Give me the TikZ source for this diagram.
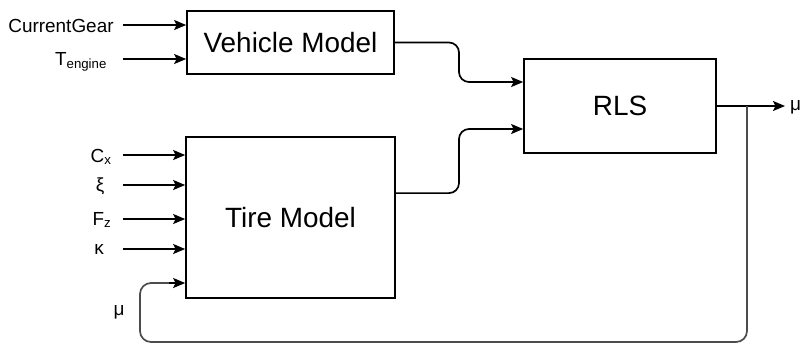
\documentclass[tikz,border=0pt]{standalone}
\usepackage{fontspec}
\setmainfont{Liberation Sans}
\usetikzlibrary{arrows.meta,calc}
\begin{document}
\begin{tikzpicture}[x=1bp,y=-1bp,
  block/.style={draw,line width=1.7bp,inner sep=0pt,font=\fontsize{28}{30}\selectfont},
  lbl/.style={inner sep=0pt,font=\fontsize{19}{21}\selectfont},
  arr/.style={line width=1.7bp,-{Stealth[length=12bp,width=10bp,inset=2.5bp]}},
  link/.style={arr,rounded corners=10bp},
  fb/.style={line width=1.7bp,draw=black!70,rounded corners=11bp}]
\useasboundingbox (0,0) rectangle (804,345);

% blocks
\node[block,minimum width=207bp,minimum height=63bp] (vm) at (290.5,42.5) {Vehicle Model};
\node[block,minimum width=209bp,minimum height=161bp] (tm) at (290.5,217.5) {Tire Model};
\node[block,minimum width=192bp,minimum height=94bp] (rls) at (620,106) {RLS};

% input labels
\node[lbl] (cg) at (61,26) {CurrentGear};
\node[lbl] (te) at (81,62) {T\textsubscript{engine}};
\node[lbl] (cx) at (101,157) {C\textsubscript{x}};
\node[lbl] (xi) at (100,186) {ξ};
\node[lbl] (fz) at (102,220) {F\textsubscript{z}};
\node[lbl] (ka) at (99,249) {κ};
\node[lbl] (mf) at (119,312) {μ};
\node[lbl,anchor=west] (mo) at (790,107) {μ};

% start points of the input arrows
\coordinate (s1) at (123,25);
\coordinate (s2) at (123,59);
\coordinate (s3) at (123,155);
\coordinate (s4) at (123,185);
\coordinate (s5) at (123,219);
\coordinate (s6) at (123,249);

\draw[arr] (s1) -- (s1 -| vm.west);
\draw[arr] (s2) -- (s2 -| vm.west);
\draw[arr] (s3) -- (s3 -| tm.west);
\draw[arr] (s4) -- (s4 -| tm.west);
\draw[arr] (s5) -- (s5 -| tm.west);
\draw[arr] (s6) -- (s6 -| tm.west);

% block outputs into the RLS estimator
\coordinate (vo) at (vm.east);
\coordinate (to) at ($(tm.north east)!0.35!(tm.south east)$);
\coordinate (r1) at ($(rls.west)+(0,-24)$);
\coordinate (r2) at ($(rls.west)+(0,23)$);
\coordinate (bx) at (459,0);
\draw[link] (vo) -| (bx |- r1) -- (r1);
\draw[link] (to) -| (bx |- r2) -- (r2);

% estimate output and feedback to the tire model
\coordinate (tap) at (747,106);
\coordinate (ti) at (tm.west |- 0,283);
\draw[arr] (rls.east) -- ($(mo.west)+(-5,-1)$);
\draw[fb] (tap) -- (747,342) -- (140,342) -- (140,283) -- ($(ti)+(-14,0)$);
\draw[arr] ($(ti)+(-16,0)$) -- (ti);
\end{tikzpicture}
\end{document}
